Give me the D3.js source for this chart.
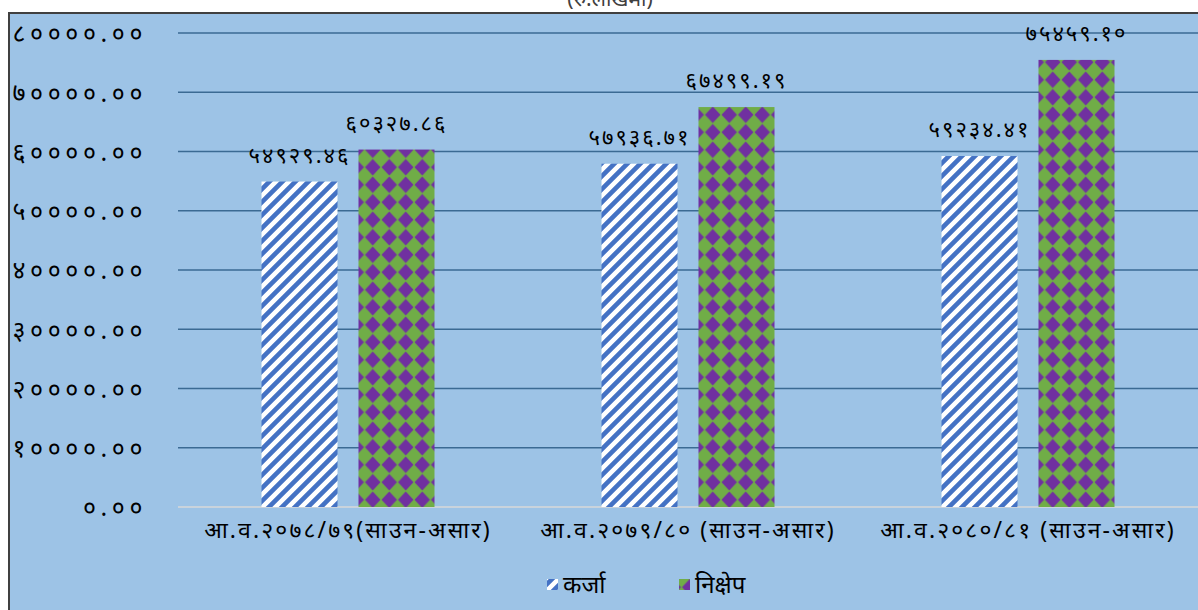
<!DOCTYPE html>
<html>
<head>
<meta charset="utf-8">
<script src="https://cdn.jsdelivr.net/npm/d3@7"></script>
<style>
  html, body { margin: 0; padding: 0; background: #ffffff; }
  svg { display: block; }
  text { font-family: "Noto Sans", "Noto Sans Devanagari", "Lohit Devanagari", sans-serif; }
</style>
</head>
<body>
<svg id="chart" width="1198" height="610"></svg>
<script>
const categories = ["आ.व.२०७८/७९(साउन-असार)", "आ.व.२०७९/८० (साउन-असार)", "आ.व.२०८०/८१ (साउन-असार)"];
const seriesNames = ["कर्जा", "निक्षेप"];
const loanValues = [54929.46, 57936.71, 59234.41];
const depositValues = [60327.86, 67499.19, 75459.10];
const loanLabels = ["५४९२९.४६", "५७९३६.७१", "५९२३४.४१"];
const depositLabels = ["६०३२७.८६", "६७४९९.१९", "७५४५९.१०"];
const yTicks = [0, 10000, 20000, 30000, 40000, 50000, 60000, 70000, 80000];
const yTickLabels = ["०.००", "१००००.००", "२००००.००", "३००००.००", "४००००.००", "५००००.००", "६००००.००", "७००००.००", "८००००.००"];
const titleText = "(रु.लाखमा)";

const svg = d3.select("#chart");
const W = 1198, H = 610;

// patterns
const defs = svg.append("defs");
const stripe = defs.append("pattern").attr("id", "stripe").attr("patternUnits", "userSpaceOnUse")
  .attr("width", 13).attr("height", 13);
stripe.append("rect").attr("width", 13).attr("height", 13).attr("fill", "#ffffff");
stripe.append("path").attr("d", "M-4,4 L4,-4 M0,13 L13,0 M9,17 L17,9")
  .attr("stroke", "#4472C4").attr("stroke-width", 4.6);

const diamond = defs.append("pattern").attr("id", "diamond").attr("patternUnits", "userSpaceOnUse")
  .attr("width", 16.5).attr("height", 17.5).attr("x", 698).attr("y", 106);
diamond.append("rect").attr("width", 16.5).attr("height", 17.5).attr("fill", "#70AD47");
diamond.append("path").attr("d", "M8.25,0.6 L16.0,8.75 L8.25,16.9 L0.5,8.75 Z").attr("fill", "#7030A0");

// background plot box
svg.append("rect").attr("x", 9).attr("y", 13).attr("width", W).attr("height", H)
  .attr("fill", "#9DC3E6").attr("stroke", "#404040").attr("stroke-width", 2);

// title (clipped at top as in the reference)
svg.append("text").attr("x", 610).attr("y", 6).attr("text-anchor", "middle")
  .attr("font-size", 21).attr("fill", "#404040").text(titleText);

const x0 = d3.scaleBand().domain(categories).range([178, 1198]).padding(0);
const x1 = d3.scaleBand().domain(seriesNames).range([0, x0.bandwidth()])
  .paddingInner(0.2165).paddingOuter(0.861);
const y = d3.scaleLinear().domain([0, 80000]).range([507, 33]);

// gridlines
svg.append("g").selectAll("line").data(yTicks).join("line")
  .attr("x1", 178).attr("x2", W).attr("y1", d => y(d)).attr("y2", d => y(d))
  .attr("stroke", d => d === 0 ? "#D9D9D9" : "#3B6A93").attr("stroke-width", 1.5);

// y axis labels
const yAxis = d3.axisLeft(y).tickValues(yTicks).tickSize(0)
  .tickFormat((d, i) => yTickLabels[i]);
const yg = svg.append("g").attr("transform", "translate(150,0)").call(yAxis);
yg.select(".domain").remove();
yg.selectAll("text").attr("font-size", 25).attr("fill", "#000").attr("letter-spacing", "4.6px")
  .attr("dx", 0).attr("dy", "0.35em");

// x axis labels
const xAxis = d3.axisBottom(x0).tickSize(0);
const xg = svg.append("g").attr("transform", "translate(0,507)").call(xAxis);
xg.select(".domain").remove();
xg.selectAll("text").attr("font-size", 23).attr("fill", "#000").attr("dy", "1.2em")
  .attr("letter-spacing", "2.1px");

const series = [
  { name: seriesNames[0], values: loanValues, labels: loanLabels, fill: "url(#stripe)" },
  { name: seriesNames[1], values: depositValues, labels: depositLabels, fill: "url(#diamond)" }
];

const groups = svg.append("g").selectAll("g").data(categories).join("g")
  .attr("transform", d => `translate(${x0(d)},0)`);

series.forEach(s => {
  groups.append("rect")
    .attr("x", (d, i) => x1(s.name))
    .attr("y", (d, i) => y(s.values[i]))
    .attr("width", x1.bandwidth())
    .attr("height", (d, i) => y(0) - y(s.values[i]))
    .attr("fill", s.fill);
  groups.append("text")
    .attr("x", (d, i) => x1(s.name) + x1.bandwidth() / 2)
    .attr("y", (d, i) => y(s.values[i]) - 19)
    .attr("text-anchor", "middle").attr("font-size", 22).attr("fill", "#000")
    .attr("letter-spacing", "2px")
    .text((d, i) => s.labels[i]);
});

// legend
const legend = svg.append("g");
const legendItems = [
  { name: seriesNames[0], fill: "url(#stripe)", x: 547 },
  { name: seriesNames[1], fill: "url(#diamond)", x: 679 }
];
legendItems.forEach(it => {
  legend.append("rect").attr("x", it.x).attr("y", 579).attr("width", 11).attr("height", 11).attr("fill", it.fill);
  legend.append("text").attr("x", it.x + 16).attr("y", 593).attr("font-size", 24).attr("fill", "#000").text(it.name);
});
</script>
</body>
</html>
